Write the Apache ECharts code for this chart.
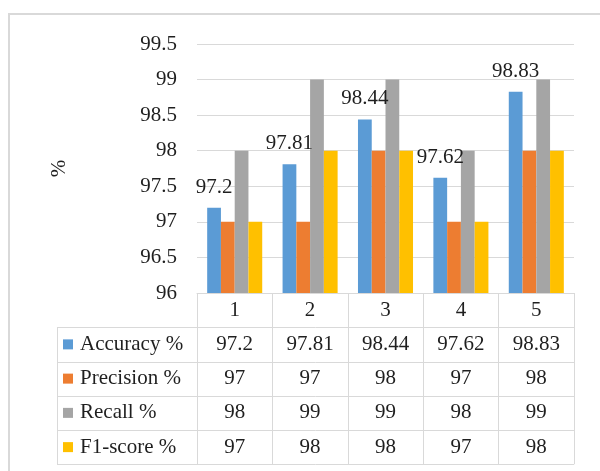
<!DOCTYPE html>
<html>
<head>
<meta charset="utf-8">
<script src="https://cdn.jsdelivr.net/npm/echarts@6/dist/echarts.min.js"></script>
<style>
  html, body { margin: 0; padding: 0; background: #fff; }
  #chart { width: 600px; height: 471px; }
</style>
</head>
<body>
<div id="chart"></div>
<script>
// Model runs and their scores (%)
const categories = ['1', '2', '3', '4', '5'];
const seriesNames = ['Accuracy %', 'Precision %', 'Recall %', 'F1-score %'];
const accuracy = [97.2, 97.81, 98.44, 97.62, 98.83];
const precision = [97, 97, 98, 97, 98];
const recall = [98, 99, 99, 98, 99];
const f1score = [97, 98, 98, 97, 98];
const yMin = 96, yMax = 99.5, yStep = 0.5;

const colors = ['#5B9BD5', '#ED7D31', '#A5A5A5', '#FFC000'];
const font = 'Liberation Serif, Times New Roman, serif';
const fontSize = 21;
const textColor = '#1f1f1f';
const lineColor = '#d9d9d9';

// layout of plot + data table below it
const W = 600, H = 471;
const plotLeft = 197, plotRight = 574, plotTop = 44, plotBottom = 293;
const rowH = 34.25;
const tableLeft = 57;

const chart = echarts.init(document.getElementById('chart'), null, { renderer: 'canvas' });

const valuesByRow = [accuracy, precision, recall, f1score];

// horizontal rules of the data table (one above each series row, plus the bottom)
const tableLines = [];
for (let r = 0; r <= seriesNames.length; r++) {
  const y = Math.round(plotBottom + rowH * (r + 1)) + 0.5;
  tableLines.push({
    type: 'line',
    shape: { x1: tableLeft, y1: y, x2: plotRight, y2: y },
    style: { stroke: lineColor, lineWidth: 1 },
    silent: true
  });
}
// left edge of the legend column
tableLines.push({
  type: 'line',
  shape: { x1: tableLeft + 0.5, y1: plotBottom + rowH, x2: tableLeft + 0.5, y2: plotBottom + rowH * (seriesNames.length + 1) },
  style: { stroke: lineColor, lineWidth: 1 },
  silent: true
});

const option = {
  animation: false,
  backgroundColor: '#fff',
  color: colors,
  textStyle: { fontFamily: font },
  grid: {
    left: plotLeft,
    right: W - plotRight,
    top: plotTop,
    bottom: H - plotBottom,
    containLabel: false
  },
  legend: {
    orient: 'vertical',
    left: 63,
    top: plotBottom + rowH,
    padding: 0,
    itemGap: 0,
    itemWidth: 10,
    itemHeight: 10,
    icon: 'rect',
    selectedMode: false,
    data: seriesNames,
    textStyle: {
      fontFamily: font,
      fontSize: fontSize,
      color: textColor,
      lineHeight: rowH,
      padding: [0, 0, 0, 2]
    }
  },
  xAxis: {
    type: 'category',
    data: categories,
    axisLine: { show: true, lineStyle: { color: lineColor, width: 1 } },
    axisTick: {
      show: true,
      length: rowH * (seriesNames.length + 1),
      lineStyle: { color: lineColor, width: 1 }
    },
    axisLabel: {
      interval: 0,
      margin: 0,
      fontFamily: font,
      fontSize: fontSize,
      color: textColor,
      lineHeight: rowH,
      formatter: function (v, i) {
        return [categories[i]].concat(valuesByRow.map(function (arr) { return arr[i]; })).join('\n');
      }
    },
    splitLine: { show: false }
  },
  yAxis: {
    type: 'value',
    min: yMin,
    max: yMax,
    interval: yStep,
    name: '%',
    nameLocation: 'middle',
    nameGap: 127,
    nameTextStyle: { fontFamily: font, fontSize: fontSize, color: textColor },
    axisLine: { show: false },
    axisTick: { show: false },
    axisLabel: { margin: 20, fontFamily: font, fontSize: fontSize, color: textColor },
    splitLine: { show: true, lineStyle: { color: lineColor, width: 1 } }
  },
  series: [
    {
      name: seriesNames[0], type: 'bar', data: accuracy,
      barGap: '0%', barCategoryGap: '27%',
      label: {
        show: true, position: 'top', distance: 10,
        fontFamily: font, fontSize: fontSize, color: textColor
      }
    },
    { name: seriesNames[1], type: 'bar', data: precision, barGap: '0%', barCategoryGap: '27%' },
    { name: seriesNames[2], type: 'bar', data: recall, barGap: '0%', barCategoryGap: '27%' },
    { name: seriesNames[3], type: 'bar', data: f1score, barGap: '0%', barCategoryGap: '27%' }
  ],
  graphic: [
    {
      type: 'rect',
      shape: { x: 9, y: 14, width: 700, height: 600 },
      style: { fill: 'none', stroke: lineColor, lineWidth: 2 },
      silent: true,
      z: -1
    }
  ].concat(tableLines)
};

chart.setOption(option);
</script>
</body>
</html>
